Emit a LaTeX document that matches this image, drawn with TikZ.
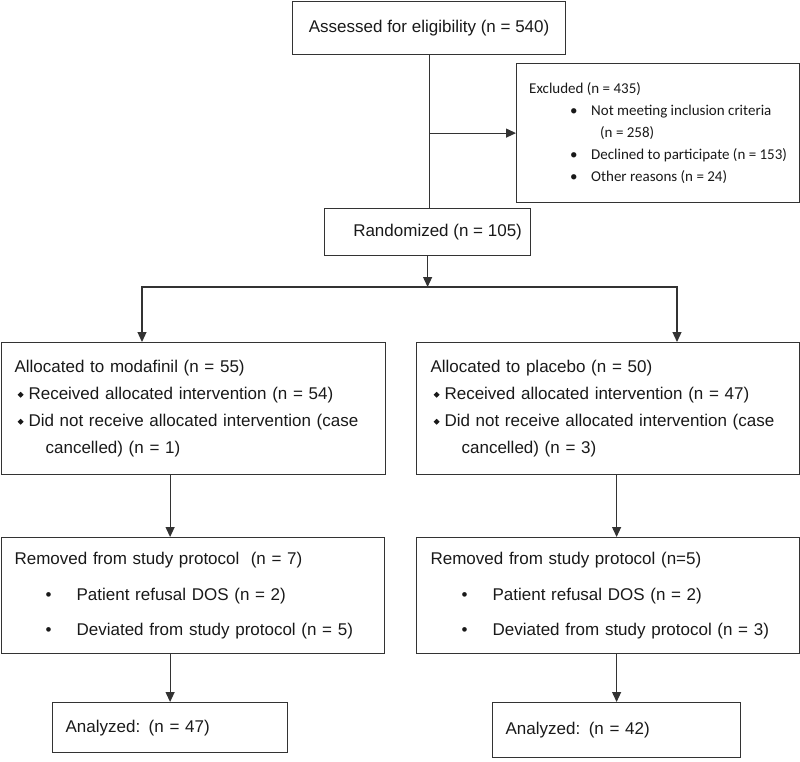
\documentclass[tikz,border=0pt]{standalone}
\usepackage{fontspec}
\setmainfont{Liberation Sans}
\newfontfamily\calfont{Carlito}
\usetikzlibrary{arrows.meta}
\newcommand{\dmd}{\hspace*{3pt}\raisebox{1.8pt}{\rotatebox{45}{\rule{4.2pt}{4.2pt}}}\hspace*{5pt}}
\newcommand{\xbul}{\makebox[62pt][l]{\hspace*{41pt}\textbullet}}
\newcommand{\rbul}{\makebox[62pt][l]{\hspace*{31pt}\textbullet}}
\begin{document}
\begin{tikzpicture}[x=1pt,y=-1pt,line join=miter,>={Triangle[length=10pt,width=9pt]},line width=1.2pt]
	\tikzset{box/.style={draw=black!80,anchor=north west,inner ysep=0pt,text=black!90,
			font=\fontsize{17pt}{27pt}\selectfont}}
	\useasboundingbox (0,0) rectangle (800,761);
	% top part
	\node[box,minimum width=273pt,minimum height=53pt] (assess) at (292,1) {Assessed for eligibility (n = 540)};
	\node[box,minimum width=283pt,minimum height=139pt,align=left,
		font=\calfont\fontsize{15pt}{22pt}\selectfont] (excl) at (516,63)
		{Excluded (n = 435)\\
		\xbul Not meeting inclusion criteria\\
		\hspace*{71pt}(n = 258)\\
		\xbul Declined to participate (n = 153)\\
		\xbul Other reasons (n = 24)};
	\node[box,minimum width=206pt,minimum height=47pt] (rand) at (324,208)
		{\hspace*{20pt}Randomized (n = 105)};
	% allocation
	\node[box,minimum width=384pt,minimum height=132pt,inner xsep=13pt,text width=358pt,align=left] (allocL) at (1,342)
		{Allocated to modafinil (n = 55)\\
		\dmd Received allocated intervention (n = 54)\\
		\dmd Did not receive allocated intervention (case\\
		\hspace*{31pt}cancelled) (n = 1)};
	\node[box,minimum width=383pt,minimum height=132pt,inner xsep=14pt,text width=355pt,align=left] (allocR) at (416,342)
		{Allocated to placebo (n = 50)\\
		\dmd Received allocated intervention (n = 47)\\
		\dmd Did not receive allocated intervention (case\\
		\hspace*{31pt}cancelled) (n = 3)};
	% removed
	\node[box,minimum width=383pt,minimum height=116pt,inner xsep=13pt,text width=357pt,align=left,
		font=\fontsize{17pt}{35.5pt}\selectfont] (remL) at (1,537)
		{Removed from study protocol\ \ (n = 7)\\
		\rbul Patient refusal DOS (n = 2)\\
		\rbul Deviated from study protocol (n = 5)};
	\node[box,minimum width=383pt,minimum height=116pt,inner xsep=14pt,text width=355pt,align=left,
		font=\fontsize{17pt}{35.5pt}\selectfont] (remR) at (416,537)
		{Removed from study protocol (n=5)\\
		\rbul Patient refusal DOS (n = 2)\\
		\rbul Deviated from study protocol (n = 3)};
	% analysis
	\node[box,minimum width=235pt,minimum height=50pt,inner xsep=13pt,text width=209pt,align=left] (anaL) at (52,702)
		{Analyzed: (n = 47)};
	\node[box,minimum width=248pt,minimum height=55pt,inner xsep=13pt,text width=222pt,align=left] (anaR) at (492,702)
		{Analyzed: (n = 42)};
	% connectors
	\coordinate (jl) at (142,287);
	\coordinate (jr) at (677,287);
	\draw[black!80] (assess.south) -- (assess.south |- rand.north);
	\draw[black!80,->] (assess.south |- excl.west) -- (excl.west);
	\draw[black!80,->] (rand.south) -- (rand.south |- jl);
	\draw[black!80,<->] (jl |- allocL.north) -- (jl) -- (jr) -- (jr |- allocR.north);
	\draw[black!80,->] (anaL.north |- allocL.south) -- (anaL.north |- remL.north);
	\draw[black!80,->] (anaL.north |- remL.south) -- (anaL.north);
	\draw[black!80,->] (anaR.north |- allocR.south) -- (anaR.north |- remR.north);
	\draw[black!80,->] (anaR.north |- remR.south) -- (anaR.north);
\end{tikzpicture}
\end{document}
